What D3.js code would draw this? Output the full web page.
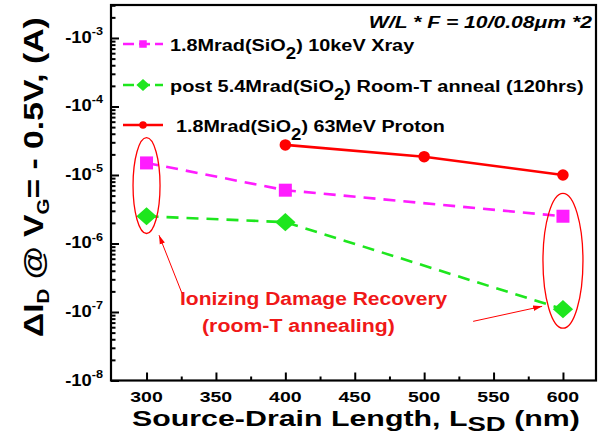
<!DOCTYPE html>
<html>
<head>
<meta charset="utf-8">
<script src="https://cdn.jsdelivr.net/npm/d3@7"></script>
<style>
  body { margin: 0; background: #fff; }
  text { font-family: "Liberation Sans", Arial, sans-serif; font-weight: bold; }
</style>
</head>
<body>
<div id="chart"></div>
<script>
// data (drain current in A, negative)
var xrayL = [300, 400, 600];
var xrayI = [-1.5e-5, -6.0e-6, -2.5e-6];
var annealL = [300, 400, 600];
var annealI = [-2.5e-6, -2.05e-6, -1.1e-7];
var protonL = [400, 500, 600];
var protonI = [-2.75e-5, -1.85e-5, -1.0e-5];

var seriesNames = [
  [["1.8Mrad(SiO", ""], ["2", "sub"], [") 10keV Xray", ""]],
  [["post 5.4Mrad(SiO", ""], ["2", "sub"], [") Room-T anneal (120hrs)", ""]],
  [["1.8Mrad(SiO", ""], ["2", "sub"], [") 63MeV Proton", ""]]
];

var xTicks = [300, 350, 400, 450, 500, 550, 600];
var xMinor = [325, 375, 425, 475, 525, 575];
var yExps = [-3, -4, -5, -6, -7, -8];

// annotation ellipses: [length, top current, bottom current]
var ellipses = [[300, -3.5e-5, -1.4e-6], [600, -5.4e-6, -5.8e-8]];
// arrows: [from length, from current, to length, to current]
var arrows = [[325.6, -1.86e-7, 309, -1.32e-6], [535.3, -7.3e-8, 585, -1.21e-7]];

var width = 601, height = 446;
var pink = "#ff1cff", green = "#1ee61e", red = "#ff0000";

var x = d3.scaleLinear()
    .domain([274.4, 623.8])
    .range([111, 596]);

var y = d3.scaleLog()
    .domain([-1e-8, -3.03e-3])
    .range([380.5, 5]);

var svg = d3.select("#chart")
  .append("svg")
    .attr("width", width)
    .attr("height", height);

svg.append("defs").append("marker")
    .attr("id", "arr")
    .attr("viewBox", "0 0 10 10")
    .attr("refX", 10)
    .attr("refY", 5)
    .attr("markerWidth", 9)
    .attr("markerHeight", 9)
    .attr("orient", "auto")
  .append("path")
    .attr("d", "M0,2L10,5L0,8z")
    .attr("fill", red);

// text with sub/superscripts, stretched to a width when given
var label = function(o) {
  var g = svg.append("g");
  var t = g.append("text")
      .attr("text-anchor", o.anchor || "start")
      .attr("fill", o.color || "#000")
      .style("font-size", o.size + "px");
  if (o.italic) t.style("font-style", "italic");
  var shift = 0;
  o.parts.forEach(function(p) {
    var dy = 0, fs = o.size;
    if (p[1] === "sub") { dy = o.subDy; fs = o.subSize; }
    if (p[1] === "sup") { dy = -o.supDy; fs = o.subSize; }
    t.append("tspan")
        .attr("dy", dy - shift)
        .style("font-size", fs + "px")
        .text(p[0]);
    shift = dy;
  });
  var sx = 1;
  if (o.width) sx = o.width / t.node().getBBox().width;
  if (o.sx) sx = o.sx;
  g.attr("transform", "translate(" + o.x + "," + o.y + ")" +
      (o.rotate ? " rotate(-90)" : "") + " scale(" + sx + ",1)");
  return g;
};

// ticks
var xMajorAxis = svg.append("g")
    .attr("transform", "translate(0,380.5)")
    .call(d3.axisBottom(x).tickValues(xTicks).tickSize(-8).tickFormat(""));
var xMinorAxis = svg.append("g")
    .attr("transform", "translate(0,380.5)")
    .call(d3.axisBottom(x).tickValues(xMinor).tickSize(-4).tickFormat(""));

var yMajor = yExps.map(function(e) { return -Math.pow(10, e); });
var yMinor = y.ticks().filter(function(v) {
  var l = Math.log10(-v);
  return Math.abs(l - Math.round(l)) > 1e-6;
});
var yMajorAxis = svg.append("g")
    .attr("transform", "translate(111,0)")
    .call(d3.axisLeft(y).tickValues(yMajor).tickSize(-8).tickFormat(""));
var yMinorAxis = svg.append("g")
    .attr("transform", "translate(111,0)")
    .call(d3.axisLeft(y).tickValues(yMinor).tickSize(-4.5).tickFormat(""));

[xMajorAxis, xMinorAxis, yMajorAxis, yMinorAxis].forEach(function(a) {
  a.select(".domain").remove();
  a.selectAll("line").attr("stroke", "#000").attr("stroke-width", 2);
});

// frame
svg.append("rect")
    .attr("x", 111)
    .attr("y", 5)
    .attr("width", 596 - 111)
    .attr("height", 380.5 - 5)
    .attr("fill", "none")
    .attr("stroke", "#000")
    .attr("stroke-width", 2.2);

// tick labels
xTicks.forEach(function(v) {
  label({x: x(v), y: 402, anchor: "middle", size: 15, sx: 1.3, parts: [[String(v), ""]]});
});
yExps.forEach(function(e) {
  label({x: 103, y: y(-Math.pow(10, e)) + 5, anchor: "end", size: 16, sx: 1.15,
         subSize: 11, supDy: 8, parts: [["-10", ""], [String(e), "sup"]]});
});

// axis titles
label({x: 132, y: 426, size: 22, width: 448, subSize: 20, subDy: 5,
       parts: [["Source-Drain Length, L", ""], ["SD", "sub"], [" (nm)", ""]]});
label({x: 43, y: 337, rotate: true, size: 28, width: 320, subSize: 17, subDy: 6,
       parts: [["\u0394I", ""], ["D", "sub"], [" @ V", ""], ["G", "sub"], ["= - 0.5V, (A)", ""]]});

// title
label({x: 592, y: 28, anchor: "end", size: 17, width: 224, italic: true,
       parts: [["W/L * F = 10/0.08\u03bcm *2", ""]]});

// series
var line = d3.line()
    .x(function(d) { return x(d[0]); })
    .y(function(d) { return y(d[1]); });

var series = [
  {L: xrayL, I: xrayI, color: pink, dash: "12,8", shape: "square"},
  {L: annealL, I: annealI, color: green, dash: "12,8", shape: "diamond"},
  {L: protonL, I: protonI, color: red, dash: null, shape: "circle"}
];

var marker = function(g, shape, cx, cy, s, color) {
  if (shape === "square") {
    g.append("rect").attr("x", cx - s / 2).attr("y", cy - s / 2)
        .attr("width", s).attr("height", s).attr("fill", color);
  } else if (shape === "diamond") {
    var w = s * 0.78, h = s * 0.7;
    g.append("path")
        .attr("d", "M" + cx + "," + (cy - h) + "L" + (cx + w) + "," + cy +
                   "L" + cx + "," + (cy + h) + "L" + (cx - w) + "," + cy + "Z")
        .attr("fill", color);
  } else {
    g.append("circle").attr("cx", cx).attr("cy", cy).attr("r", s / 2).attr("fill", color);
  }
};

series.forEach(function(s) {
  var pts = d3.zip(s.L, s.I);
  svg.append("path")
      .datum(pts)
      .attr("fill", "none")
      .attr("stroke", s.color)
      .attr("stroke-width", 2.6)
      .attr("stroke-dasharray", s.dash)
      .attr("d", line);
  var g = svg.append("g");
  var size = s.shape === "square" ? 13 : s.shape === "diamond" ? 13 : 11.5;
  pts.forEach(function(p) { marker(g, s.shape, x(p[0]), y(p[1]), size, s.color); });
});

// legend
var legendY = [44, 85, 125];
series.forEach(function(s, i) {
  var g = svg.append("g");
  g.append("line")
      .attr("x1", 123).attr("x2", 163)
      .attr("y1", legendY[i]).attr("y2", legendY[i])
      .attr("stroke", s.color)
      .attr("stroke-width", 2.6)
      .attr("stroke-dasharray", s.dash ? "11,5" : null);
  var size = s.shape === "square" ? 7.5 : s.shape === "diamond" ? 8.5 : 7.5;
  marker(g, s.shape, 143, legendY[i], size, s.color);
});
var legendX = [170, 170, 176], legendW = [245, 414, 269];
seriesNames.forEach(function(parts, i) {
  label({x: legendX[i], y: legendY[i] + 6.5, size: 17, width: legendW[i],
         subSize: 16, subDy: 8, parts: parts});
});

// annotations
ellipses.forEach(function(e, i) {
  var y0 = y(e[1]), y1 = y(e[2]);
  svg.append("ellipse")
      .attr("cx", x(e[0]))
      .attr("cy", (y0 + y1) / 2)
      .attr("rx", i === 0 ? 13.5 : 20)
      .attr("ry", (y1 - y0) / 2)
      .attr("fill", "none")
      .attr("stroke", red)
      .attr("stroke-width", 1.3);
});
arrows.forEach(function(a) {
  svg.append("line")
      .attr("x1", x(a[0])).attr("y1", y(a[1]))
      .attr("x2", x(a[2])).attr("y2", y(a[3]))
      .attr("stroke", red)
      .attr("stroke-width", 1)
      .attr("marker-end", "url(#arr)");
});
label({x: 180, y: 305, size: 19, width: 268, color: "#f01818",
       parts: [["Ionizing Damage Recovery", ""]]});
label({x: 202, y: 332, size: 19, width: 193, color: "#f01818",
       parts: [["(room-T annealing)", ""]]});
</script>
</body>
</html>
